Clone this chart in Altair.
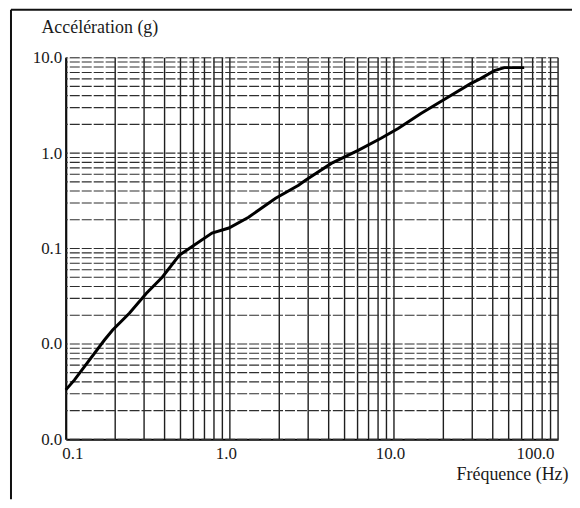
import altair as alt
import pandas as pd

# Curve (frequency in Hz, acceleration in g)
freq = [0.1, 0.113, 0.172, 0.193, 0.244, 0.31, 0.387, 0.491, 0.565, 0.778,
        0.986, 1.3, 1.9, 2.62, 2.89, 4.15, 6.05, 8.34, 10.6, 14.6,
        21.2, 29.3, 33.7, 40.9, 47.1, 62.2]
accel = [0.0033, 0.0042, 0.011, 0.014, 0.021, 0.034, 0.050, 0.085, 0.10, 0.145,
         0.164, 0.213, 0.337, 0.46, 0.52, 0.78, 1.07, 1.43, 1.81, 2.6,
         3.82, 5.35, 6.04, 7.32, 7.87, 7.87]

x_decades = [0.1, 1.0, 10.0, 100.0]
y_decades = [0.001, 0.01, 0.1, 1.0, 10.0]
multiples = [1, 2, 3, 4, 5, 6, 7, 8, 9]

x_grid = [d * m for d in x_decades[:-1] for m in multiples] + [x_decades[-1]]
y_grid = [d * m for d in y_decades[:-1] for m in multiples] + [y_decades[-1]]

FONT = "Times New Roman, Liberation Serif, Times, serif"
W, H = 494, 383

curve = pd.DataFrame({"f": freq, "a": accel, "i": range(len(freq))})
xg = pd.DataFrame({"f": x_grid})
yg = pd.DataFrame({"a": y_grid})

xscale = alt.Scale(type="log", domain=[0.1, 100], nice=False)
yscale = alt.Scale(type="log", domain=[0.001, 10], nice=False)

xaxis = alt.Axis(values=x_decades, format=".1f", ticks=False, grid=False,
                 domain=True, domainColor="black", domainWidth=2,
                 labelFont=FONT, labelFontSize=17, labelColor="#1a1a1a",
                 labelPadding=6, labelOffset=-4,
                 title="Fréquence (Hz)", titleFont=FONT, titleFontSize=18,
                 titleFontWeight="normal", titleColor="#1a1a1a",
                 titleAlign="right", titleBaseline="alphabetic",
                 titleX=504, titleY=40)
yaxis = alt.Axis(values=y_decades, format=".1f", ticks=False, grid=False,
                 domain=True, domainColor="black", domainWidth=2,
                 labelFont=FONT, labelFontSize=17, labelColor="#1a1a1a",
                 labelPadding=4, labelBaseline="middle",
                 title="Accélération (g)", titleFont=FONT, titleFontSize=18,
                 titleFontWeight="normal", titleColor="#1a1a1a", titleAngle=0,
                 titleAlign="left", titleBaseline="alphabetic",
                 titleX=-25, titleY=-25)

vgrid = alt.Chart(xg).mark_rule(color="#1e1e1e", strokeWidth=1.4).encode(
    x=alt.X("f:Q", scale=xscale, axis=xaxis)
)
hgrid = alt.Chart(yg).mark_rule(color="#2e2e2e", strokeWidth=1.1, strokeDash=[10, 2]).encode(
    y=alt.Y("a:Q", scale=yscale, axis=yaxis)
)

line = alt.Chart(curve).mark_line(color="black", strokeWidth=3).encode(
    x=alt.X("f:Q", scale=xscale, axis=xaxis),
    y=alt.Y("a:Q", scale=yscale, axis=yaxis),
    order="i:Q",
)

frame_df = pd.DataFrame({"k": [0]})
frame_left = alt.Chart(frame_df).mark_rule(color="#111", strokeWidth=2).encode(
    x=alt.value(-55), y=alt.value(-48), y2=alt.value(H + 60)
)
frame_top = alt.Chart(frame_df).mark_rule(color="#111", strokeWidth=2).encode(
    x=alt.value(-55), x2=alt.value(W + 14), y=alt.value(-48)
)

chart = alt.layer(vgrid, hgrid, line, frame_left, frame_top).properties(
    width=W, height=H,
    autosize=alt.AutoSizeParams(type="none"),
    padding={"left": 58, "top": 49, "right": 14, "bottom": 60},
).configure_view(stroke="#111", strokeWidth=1.5).configure(background="white")

chart.save("out.html", embed_options={"renderer": "svg", "actions": False})
